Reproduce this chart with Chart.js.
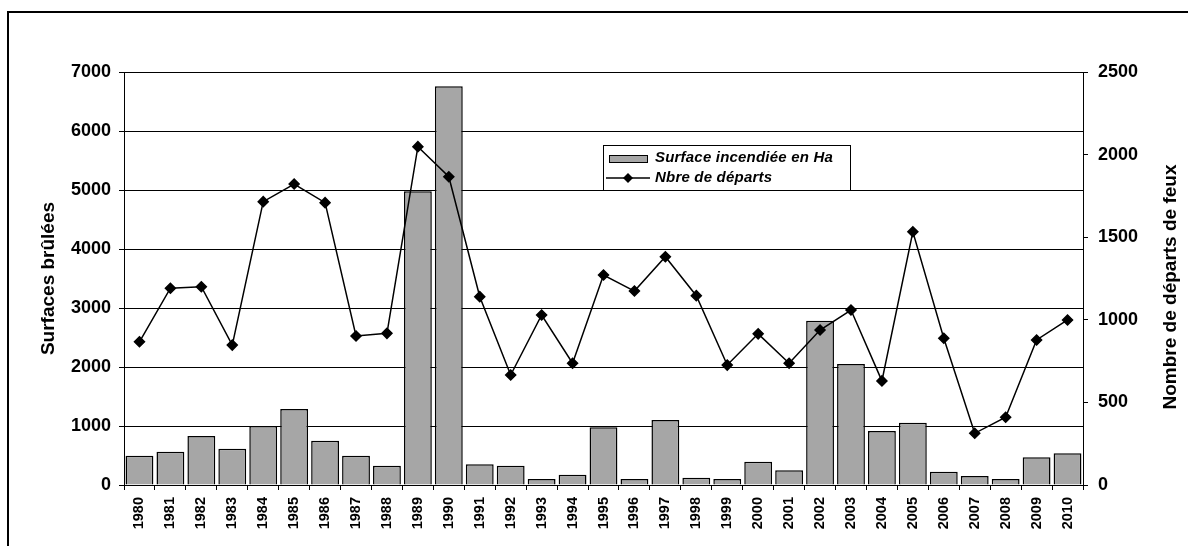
<!DOCTYPE html>
<html lang="fr">
  <head>
    <meta charset="utf-8" />
    <title>Surfaces brûlées et départs de feux</title>
    <style>
      * {
        margin: 0;
        padding: 0;
      }
      body {
        background: white;
      }
      .chartBox {
        width: 1188px;
        height: 546px;
      }
    </style>
  </head>
  <body>
    <div class="chartBox">
      <canvas id="myChart"></canvas>
    </div>

    <script src="https://cdn.jsdelivr.net/npm/chart.js"></script>

    <script>
      // data block
      const years = [
        "1980", "1981", "1982", "1983", "1984", "1985", "1986", "1987",
        "1988", "1989", "1990", "1991", "1992", "1993", "1994", "1995",
        "1996", "1997", "1998", "1999", "2000", "2001", "2002", "2003",
        "2004", "2005", "2006", "2007", "2008", "2009", "2010",
      ];
      // surface incendiée en Ha (left axis)
      const surfaces = [
        497, 565, 830, 616, 1000, 1290, 751, 497, 327, 4980, 6760, 350,
        327, 102, 175, 980, 102, 1100, 124, 102, 395, 249, 2785, 2051, 915,
        1056, 226, 153, 102, 469, 537,
      ];
      // nombre de départs de feux (right axis)
      const departs = [
        867, 1191, 1200, 847, 1715, 1822, 1709, 902, 918, 2048, 1866, 1140,
        666, 1029, 737, 1271, 1174, 1382, 1146, 726, 915, 737, 938, 1059,
        630, 1533, 888, 313, 410, 878, 999,
      ];
      const leftTicks = { min: 0, max: 7000, step: 1000 };
      const rightTicks = { min: 0, max: 2500, step: 500 };
      const rightTitle = "Nombre de départs de feux";

      const barGray = "#a6a6a6";
      const fontFamily = "'Liberation Sans', Arial, sans-serif";

      // outer frame, right title + legend plugin
      const frameAndLegend = {
        id: "frameAndLegend",
        afterDraw(chart) {
          const { ctx, data } = chart;
          ctx.save();
          // frame around the whole chart (cut by the picture edges)
          ctx.strokeStyle = "#000";
          ctx.lineWidth = 2;
          ctx.beginPath();
          ctx.moveTo(8, 546);
          ctx.lineTo(8, 12);
          ctx.lineTo(1188, 12);
          ctx.stroke();

          // right axis title, reading upwards like the left one
          ctx.save();
          ctx.translate(1171, 287);
          ctx.rotate(-Math.PI / 2);
          ctx.font = "bold 19px " + fontFamily;
          ctx.fillStyle = "#000";
          ctx.textAlign = "center";
          ctx.textBaseline = "middle";
          ctx.fillText(rightTitle, 0, 0);
          ctx.restore();

          // legend box
          const bx = 603, by = 145, bw = 247, bh = 45;
          ctx.fillStyle = "#fff";
          ctx.fillRect(bx, by, bw, bh);
          ctx.lineWidth = 1;
          ctx.strokeRect(bx + 0.5, by + 0.5, bw, bh);

          // bar symbol
          ctx.fillStyle = barGray;
          ctx.fillRect(609, 155, 38, 7);
          ctx.strokeRect(609.5, 155.5, 38, 7);

          // line symbol
          ctx.lineWidth = 1.5;
          ctx.beginPath();
          ctx.moveTo(606, 178);
          ctx.lineTo(650, 178);
          ctx.stroke();
          ctx.fillStyle = "#000";
          ctx.beginPath();
          ctx.moveTo(628, 173);
          ctx.lineTo(633, 178);
          ctx.lineTo(628, 183);
          ctx.lineTo(623, 178);
          ctx.closePath();
          ctx.fill();

          ctx.font = "italic bold 15px " + fontFamily;
          ctx.letterSpacing = "0.2px";
          ctx.textBaseline = "middle";
          ctx.textAlign = "left";
          ctx.fillText(data.datasets[1].label, 655, 158);
          ctx.fillText(data.datasets[0].label, 655, 178);
          ctx.restore();
        },
      };

      const data = {
        labels: years,
        datasets: [
          {
            type: "line",
            label: "Nbre de départs",
            data: departs,
            yAxisID: "y1",
            borderColor: "#000",
            borderWidth: 1.5,
            backgroundColor: "#000",
            pointStyle: "rectRot",
            pointRadius: 5,
            pointBackgroundColor: "#000",
            tension: 0,
            order: 0,
          },
          {
            type: "bar",
            label: "Surface incendiée en Ha",
            data: surfaces,
            yAxisID: "y",
            backgroundColor: barGray,
            borderColor: "#000",
            borderWidth: 1.5,
            barPercentage: 0.9,
            categoryPercentage: 1,
            order: 1,
          },
        ],
      };

      const tickFont = { family: fontFamily, weight: "bold", size: 18 };
      const titleFont = { family: fontFamily, weight: "bold", size: 19 };
      const plainNumber = (value) => String(value);

      // config block
      const config = {
        type: "bar",
        data: data,
        options: {
          responsive: true,
          maintainAspectRatio: false,
          animation: false,
          layout: { padding: { top: 72, left: 0, right: 0, bottom: 0 } },
          plugins: {
            legend: { display: false },
            tooltip: { enabled: false },
          },
          scales: {
            x: {
              grid: {
                offset: true,
                drawOnChartArea: false,
                tickLength: 5,
                color: "#000",
              },
              border: { color: "#000", width: 1 },
              ticks: {
                color: "#000",
                minRotation: 90,
                maxRotation: 90,
                autoSkip: false,
                padding: 7,
                font: { ...tickFont, size: 14.5 },
              },
              afterFit(scale) {
                scale.height = 61;
              },
            },
            y: {
              position: "left",
              min: leftTicks.min,
              max: leftTicks.max,
              ticks: {
                stepSize: leftTicks.step,
                color: "#000",
                padding: 8,
                font: tickFont,
                callback: plainNumber,
              },
              grid: { color: "#000", lineWidth: 1, tickLength: 5 },
              border: { color: "#000", width: 1 },
              title: {
                display: true,
                text: "Surfaces brûlées",
                color: "#000",
                font: titleFont,
                padding: { top: 37, bottom: 0 },
              },
              afterFit(scale) {
                scale.width = 124;
              },
            },
            y1: {
              position: "right",
              min: rightTicks.min,
              max: rightTicks.max,
              ticks: {
                stepSize: rightTicks.step,
                color: "#000",
                padding: 10,
                font: tickFont,
                callback: plainNumber,
              },
              grid: { drawOnChartArea: false, color: "#000", tickLength: 5 },
              border: { color: "#000", width: 1 },
              afterFit(scale) {
                scale.width = 105;
              },
            },
          },
        },
        plugins: [frameAndLegend],
      };

      // init render block
      const myChart = new Chart(document.getElementById("myChart"), config);
    </script>
  </body>
</html>
